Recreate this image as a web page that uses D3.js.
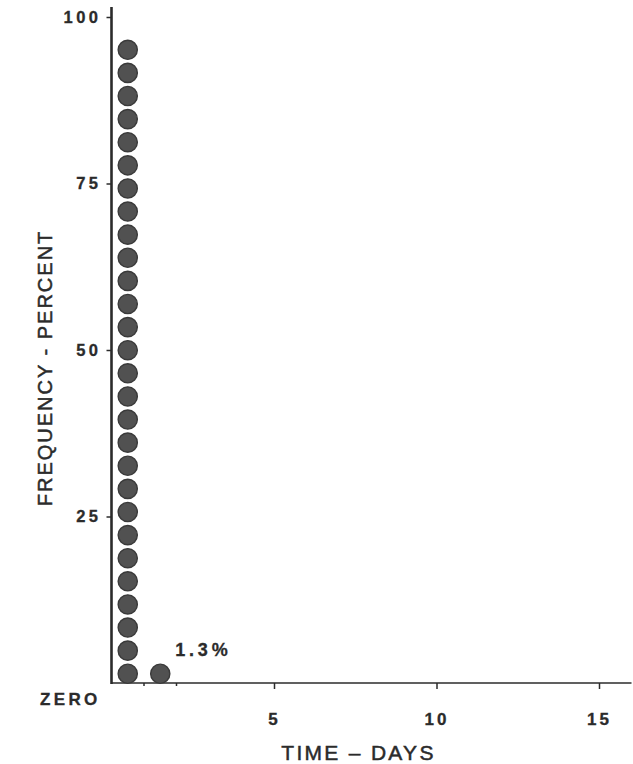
<!DOCTYPE html>
<html>
<head>
<meta charset="utf-8">
<script src="https://cdn.jsdelivr.net/npm/d3@7"></script>
<style>
  html, body { margin: 0; padding: 0; background: #fff; }
  svg { display: block; }
  text { font-family: "Liberation Sans", Arial, Helvetica, sans-serif; fill: #2b2b2b; }
</style>
</head>
<body>
<svg id="chart" width="633" height="764"></svg>
<script>
// Time-to-event frequency, shown as stacked dots per one-day interval
const days = [0.5, 1.5];            // interval midpoints (days)
const percents = [98.7, 1.3];       // frequency in each interval (%)
const yTickValues = [25, 50, 75, 100];
const xTickValues = [5, 10, 15];
const xMinorTickValues = [1, 2];
const percentPerDot = 3.47;         // share represented by one dot
const yTitle = "FREQUENCY - PERCENT";
const xTitle = "TIME \u2013 DAYS";
const zeroLabel = "ZERO";

const svg = d3.select("#chart");
const ink = "#2b2b2b";

const x = d3.scaleLinear().domain([0, 16]).range([111.5, 631.5]);
const y = d3.scaleLinear().domain([0, 100]).range([683, 17]);

// expand each interval into a stack of dots
const dots = [];
days.forEach((d, k) => {
  const n = Math.max(1, Math.round(percents[k] / percentPerDot));
  for (let i = 0; i < n; i++) dots.push({ day: d, level: (i + 0.4) * percentPerDot });
});

// shared style for the bold numeric labels
function boldLabel(sel, size, spacing) {
  sel.style("font-size", size + "px").style("font-weight", "bold")
    .style("letter-spacing", spacing + "px")
    .attr("fill", ink).attr("stroke", ink).attr("stroke-width", 0.3);
}

// y axis
const yAxis = svg.append("g")
  .attr("transform", `translate(${x(0)},0)`)
  .call(d3.axisLeft(y).tickValues(yTickValues).tickSize(5).tickPadding(5).tickFormat(d3.format("d")));
yAxis.select(".domain").remove();
yAxis.selectAll(".tick line").attr("stroke", ink).attr("stroke-width", 1.5);
yAxis.selectAll(".tick text").call(boldLabel, 16.5, 3.5);
svg.append("line")
  .attr("x1", x(0)).attr("x2", x(0))
  .attr("y1", y(0) + 1).attr("y2", y(101.5))
  .attr("stroke", ink).attr("stroke-width", 2.6);

// x axis
const xAxis = svg.append("g")
  .attr("transform", `translate(0,${y(0)})`)
  .call(d3.axisBottom(x).tickValues(xTickValues).tickSize(6).tickPadding(24).tickFormat(d3.format("d")));
xAxis.select(".domain").remove();
xAxis.selectAll(".tick line").attr("stroke", ink).attr("stroke-width", 1.5);
xAxis.selectAll(".tick text").call(boldLabel, 17, 3);
svg.append("line")
  .attr("x1", x(0)).attr("x2", x(16))
  .attr("y1", y(0)).attr("y2", y(0))
  .attr("stroke", ink).attr("stroke-width", 1.6);
svg.append("g").selectAll("line")
  .data(xMinorTickValues).join("line")
  .attr("x1", d => x(d)).attr("x2", d => x(d))
  .attr("y1", y(0)).attr("y2", y(0) + 3)
  .attr("stroke", ink).attr("stroke-width", 1.5);

// zero label under the y axis
svg.append("text")
  .attr("x", x(0) - 11).attr("y", y(0) + 22)
  .attr("text-anchor", "end")
  .call(boldLabel, 17, 3.3)
  .text(zeroLabel);

// axis titles
svg.append("text")
  .attr("transform", `translate(52,${y(47.3)}) rotate(-90)`)
  .attr("text-anchor", "middle")
  .attr("stroke", ink).attr("stroke-width", 0.5)
  .style("font-size", "20px").style("letter-spacing", "2px")
  .text(yTitle);
svg.append("text")
  .attr("x", x(7.6)).attr("y", 760)
  .attr("text-anchor", "middle")
  .attr("stroke", ink).attr("stroke-width", 0.5)
  .style("font-size", "21px").style("letter-spacing", "2.3px")
  .text(xTitle);

// dots
svg.append("g").selectAll("circle")
  .data(dots).join("circle")
  .attr("cx", d => x(d.day))
  .attr("cy", d => y(d.level))
  .attr("r", 9.6)
  .attr("fill", "#515151")
  .attr("stroke", "#3a3a3a")
  .attr("stroke-width", 1.4);

// value label for the second interval
const k = 1;
const nTop = Math.max(1, Math.round(percents[k] / percentPerDot));
svg.append("text")
  .attr("x", x(days[k]) + 15)
  .attr("y", y((nTop - 1 + 0.4) * percentPerDot) - 18)
  .call(boldLabel, 18, 3.8)
  .text(d3.format(".1f")(percents[k]) + "%");
</script>
</body>
</html>
